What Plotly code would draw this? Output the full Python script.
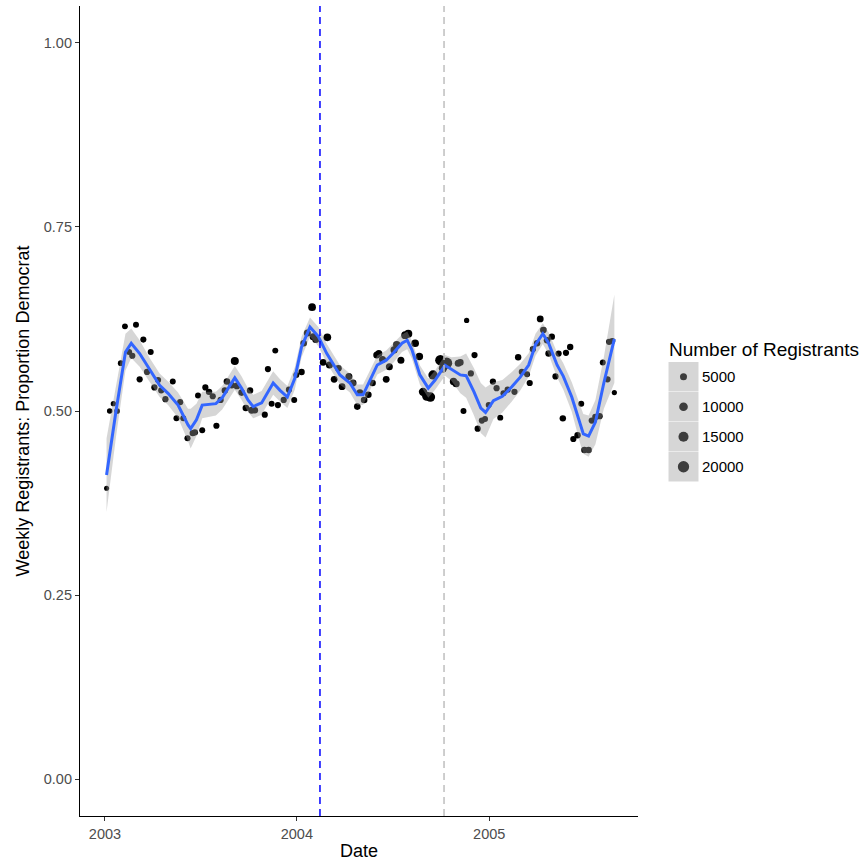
import math
import plotly.graph_objects as go

# ---------------- data ----------------
pt_dates = [
    "2003-01-04", "2003-01-10", "2003-01-17", "2003-01-24", "2003-01-31", "2003-02-08", "2003-02-16",
    "2003-02-22", "2003-03-01", "2003-03-08", "2003-03-15", "2003-03-22", "2003-03-29", "2003-04-05",
    "2003-04-12", "2003-04-18", "2003-04-26", "2003-05-10", "2003-05-17", "2003-05-24", "2003-05-30",
    "2003-06-07", "2003-06-17", "2003-06-21", "2003-06-27", "2003-07-05", "2003-07-11", "2003-07-18",
    "2003-07-25", "2003-08-01", "2003-08-09", "2003-08-17", "2003-08-21", "2003-08-30", "2003-09-05",
    "2003-09-09", "2003-09-18", "2003-09-26", "2003-10-04", "2003-10-07", "2003-10-13", "2003-11-01",
    "2003-11-07", "2003-11-14", "2003-11-21", "2003-11-26", "2003-12-07", "2003-12-17", "2003-12-27",
    "2003-12-31", "2004-01-10", "2004-01-14", "2004-01-21", "2004-01-30", "2004-02-01", "2004-02-06",
    "2004-02-20", "2004-02-28", "2004-03-03", "2004-03-12", "2004-03-20", "2004-03-27", "2004-04-09",
    "2004-04-17", "2004-04-25", "2004-04-30", "2004-05-08", "2004-05-16", "2004-05-24", "2004-06-01",
    "2004-06-05", "2004-06-12", "2004-06-19", "2004-06-25", "2004-07-04", "2004-07-09", "2004-07-17",
    "2004-07-25", "2004-07-31", "2004-08-13", "2004-08-21", "2004-08-28", "2004-09-04", "2004-09-11",
    "2004-09-16", "2004-09-30", "2004-10-05", "2004-10-12", "2004-10-25", "2004-10-30", "2004-11-03",
    "2004-11-07", "2004-11-13", "2004-11-19", "2004-11-27", "2004-12-04", "2004-12-10", "2004-12-18",
    "2004-12-24", "2004-12-31", "2005-01-08", "2005-01-15", "2005-01-22", "2005-01-28", "2005-02-05",
    "2005-02-18", "2005-02-25", "2005-03-04", "2005-03-14", "2005-03-19", "2005-03-25", "2005-04-02",
    "2005-04-08", "2005-04-14", "2005-04-21", "2005-04-24", "2005-04-30", "2005-05-07", "2005-05-13",
    "2005-05-21", "2005-05-27", "2005-06-04", "2005-06-10", "2005-06-18", "2005-06-25", "2005-07-01",
    "2005-07-09", "2005-07-15", "2005-07-22", "2005-07-30", "2005-08-05", "2005-08-14", "2005-08-17",
    "2005-08-23", "2005-08-27",
]
pt_props = [
    0.395, 0.500, 0.510, 0.500, 0.565, 0.615, 0.580,
    0.575, 0.617, 0.543, 0.597, 0.553, 0.580, 0.532,
    0.542, 0.528, 0.516, 0.540, 0.490, 0.512, 0.490,
    0.463, 0.470, 0.471, 0.521, 0.474, 0.532, 0.526,
    0.520, 0.480, 0.515, 0.528, 0.540, 0.535, 0.568,
    0.534, 0.525, 0.504, 0.528, 0.501, 0.501, 0.495,
    0.557, 0.510, 0.582, 0.508, 0.515, 0.529, 0.515,
    0.549, 0.553, 0.592, 0.606, 0.641, 0.601, 0.597,
    0.566, 0.600, 0.5625, 0.543, 0.558, 0.533, 0.547,
    0.538, 0.506, 0.525, 0.515, 0.522, 0.538, 0.576,
    0.578, 0.570, 0.543, 0.560, 0.583, 0.590, 0.569,
    0.603, 0.605, 0.592, 0.574, 0.526, 0.520, 0.519,
    0.549, 0.569, 0.558, 0.565, 0.540, 0.537, 0.565,
    0.566, 0.500, 0.623, 0.551, 0.576, 0.476, 0.487,
    0.489, 0.508, 0.540, 0.531, 0.491, 0.524, 0.529,
    0.526, 0.573, 0.553, 0.550, 0.538, 0.584, 0.592,
    0.625, 0.610, 0.596, 0.578, 0.601, 0.547, 0.578,
    0.490, 0.579, 0.587, 0.462, 0.467, 0.510, 0.447,
    0.447, 0.487, 0.492, 0.493, 0.566, 0.543, 0.594,
    0.595, 0.525,
]
pt_regs = [
    600, 1500, 1000, 1800, 2000, 2200, 2500,
    3000, 2500, 3000, 2800, 3000, 2500, 3000,
    2800, 2800, 3000, 2500, 2500, 2800, 2500,
    2800, 3500, 3500, 2500, 2500, 3000, 3500,
    3000, 3000, 3000, 3500, 4000, 4000, 8000,
    4500, 4000, 4000, 3500, 4500, 4000, 3000,
    3000, 2500, 2500, 3000, 3000, 3000, 2500,
    2500, 3500, 4000, 5000, 7000, 5000, 5000,
    4000, 7000, 5000, 4500, 4500, 4500, 5000,
    4500, 4000, 4000, 4000, 4000, 4000, 5000,
    5000, 5000, 4500, 5000, 5500, 6000, 5000,
    7500, 8000, 7000, 6500, 9000, 11000, 13000,
    12000, 16000, 9000, 19000, 6000, 5500, 5000,
    4000, 2500, 1000, 3000, 3000, 3000, 3000,
    2500, 2500, 3000, 3000, 2500, 2500, 3000,
    3000, 3500, 3000, 2500, 3000, 3000, 3500,
    4500, 4000, 4000, 4000, 3500, 3000, 3000,
    3500, 3000, 3500, 3000, 3500, 2500, 3500,
    3500, 3000, 3500, 3000, 2500, 3000, 3000,
    3000, 800,
]

sm_dates = [
    "2003-01-04", "2003-01-22", "2003-02-09", "2003-02-20", "2003-03-08", "2003-03-27", "2003-04-15",
    "2003-05-01", "2003-05-20", "2003-06-08", "2003-06-13", "2003-06-24", "2003-07-05", "2003-07-31",
    "2003-08-12", "2003-09-05", "2003-09-18", "2003-09-30", "2003-10-10", "2003-10-26", "2003-11-17",
    "2003-11-30", "2003-12-14", "2003-12-28", "2004-01-10", "2004-01-26", "2004-02-11", "2004-02-27",
    "2004-03-23", "2004-04-11", "2004-04-25", "2004-05-06", "2004-05-19", "2004-06-02", "2004-06-19",
    "2004-07-03", "2004-07-19", "2004-07-29", "2004-08-07", "2004-08-22", "2004-09-07", "2004-09-20",
    "2004-10-09", "2004-10-21", "2004-11-07", "2004-11-18", "2004-12-03", "2004-12-16", "2004-12-25",
    "2005-01-09", "2005-01-26", "2005-02-13", "2005-03-01", "2005-03-17", "2005-03-30", "2005-04-13",
    "2005-04-24", "2005-05-10", "2005-05-22", "2005-06-07", "2005-06-23", "2005-06-29", "2005-07-09",
    "2005-07-22", "2005-08-07", "2005-08-27",
]
sm_fit = [
    0.413, 0.500, 0.580, 0.592, 0.578, 0.556, 0.535,
    0.524, 0.508, 0.481, 0.476, 0.488, 0.508, 0.510,
    0.518, 0.545, 0.531, 0.515, 0.506, 0.511, 0.538,
    0.528, 0.519, 0.544, 0.587, 0.614, 0.601, 0.578,
    0.549, 0.538, 0.522, 0.522, 0.542, 0.5625, 0.569,
    0.579, 0.592, 0.596, 0.583, 0.549, 0.531, 0.542,
    0.562, 0.557, 0.549, 0.548, 0.526, 0.504, 0.498,
    0.514, 0.520, 0.533, 0.546, 0.5625, 0.590, 0.605,
    0.592, 0.5625, 0.547, 0.519, 0.481, 0.469, 0.466,
    0.485, 0.538, 0.598,
]
sm_se = [
    0.050, 0.035, 0.025, 0.020, 0.018, 0.016, 0.016,
    0.016, 0.017, 0.022, 0.027, 0.022, 0.018, 0.016,
    0.016, 0.016, 0.016, 0.016, 0.016, 0.016, 0.016,
    0.015, 0.015, 0.015, 0.014, 0.013, 0.013, 0.013,
    0.013, 0.013, 0.014, 0.014, 0.014, 0.013, 0.013,
    0.013, 0.012, 0.012, 0.012, 0.013, 0.013, 0.013,
    0.014, 0.016, 0.025, 0.030, 0.032, 0.034, 0.034,
    0.025, 0.022, 0.020, 0.018, 0.016, 0.015, 0.014,
    0.015, 0.017, 0.018, 0.020, 0.025, 0.027, 0.028,
    0.030, 0.035, 0.060,
]

year_ticks = ["2003-01-01", "2004-01-01", "2005-01-01"]
year_labels = ["2003", "2004", "2005"]
y_ticks = [0.0, 0.25, 0.5, 0.75, 1.0]
vline_blue = "2004-02-14"
vline_grey = "2004-10-07"
legend_breaks = [5000, 10000, 15000, 20000]


# size scale: area linear in registrants (like ggplot scale_size)
def reg_to_diam(n):
    return math.sqrt(22.7 + 0.00527 * n)


FONT = "Liberation Sans, Arial, Helvetica, sans-serif"

fig = go.Figure()

fig.add_trace(go.Scatter(
    x=pt_dates, y=pt_props, mode="markers",
    marker=dict(color="black", opacity=1, size=[reg_to_diam(n) for n in pt_regs], line=dict(width=0)),
    showlegend=False, hoverinfo="skip",
))

lower = [f - s for f, s in zip(sm_fit, sm_se)]
upper = [f + s for f, s in zip(sm_fit, sm_se)]
fig.add_trace(go.Scatter(x=sm_dates, y=lower, mode="lines", line=dict(width=0),
                         showlegend=False, hoverinfo="skip"))
fig.add_trace(go.Scatter(x=sm_dates, y=upper, mode="lines", line=dict(width=0),
                         fill="tonexty", fillcolor="rgba(153,153,153,0.4)",
                         showlegend=False, hoverinfo="skip"))
fig.add_trace(go.Scatter(x=sm_dates, y=sm_fit, mode="lines",
                         line=dict(color="#3366FF", width=3),
                         showlegend=False, hoverinfo="skip"))

# vertical reference lines
fig.add_shape(type="line", xref="x", yref="paper", x0=vline_blue, x1=vline_blue, y0=0, y1=1,
              line=dict(color="#0000FF", width=1.5, dash="7px,5px"))
fig.add_shape(type="line", xref="x", yref="paper", x0=vline_grey, x1=vline_grey, y0=0, y1=1,
              line=dict(color="#BEBEBE", width=1.5, dash="7px,5px"))

# ---------------- manual size legend ----------------
L, T, W, H = 80, 6, 558, 810  # plot area in pixels


def px(x):
    return (x - L) / W


def py(y):
    return (T + H - y) / H


fig.add_annotation(x=px(667), y=py(349), xref="paper", yref="paper", text="Number of Registrants",
                   showarrow=False, xanchor="left", yanchor="middle",
                   font=dict(family=FONT, size=19, color="black"))
key_top = 362
for i, b in enumerate(legend_breaks):
    y0 = key_top + i * 30
    fig.add_shape(type="rect", xref="paper", yref="paper", x0=px(668.5), x1=px(698.5),
                  y0=py(y0 + 29.5), y1=py(y0), fillcolor="#D6D6D6", line=dict(width=0), layer="above")
    d = reg_to_diam(b)
    cy = y0 + 14.75
    fig.add_shape(type="circle", xref="paper", yref="paper", xsizemode="pixel", ysizemode="pixel",
                  xanchor=px(683.5), yanchor=py(cy), x0=-d / 2, x1=d / 2, y0=-d / 2, y1=d / 2,
                  fillcolor="#3D3D3D", line=dict(width=0), layer="above")
    fig.add_annotation(x=px(700), y=py(cy), xref="paper", yref="paper", text=str(b),
                       showarrow=False, xanchor="left", yanchor="middle",
                       font=dict(family=FONT, size=15, color="black"))

fig.update_layout(
    width=863, height=865,
    margin=dict(l=L, r=863 - L - W, t=T, b=865 - T - H, autoexpand=False),
    paper_bgcolor="white", plot_bgcolor="white",
    font=dict(family=FONT, color="black"),
    showlegend=False,
    xaxis=dict(
        type="date", range=["2002-11-14 12:00", "2005-10-11"],
        tickvals=year_ticks, ticktext=year_labels,
        showline=True, linecolor="black", linewidth=1.2, mirror=False,
        ticks="outside", ticklen=4, tickwidth=1, tickcolor="#333333",
        showgrid=False, zeroline=False,
        tickfont=dict(family=FONT, size=14.5, color="#4D4D4D"),
        title=dict(text="Date", standoff=3, font=dict(family=FONT, size=18, color="black")),
    ),
    yaxis=dict(
        range=[-0.05, 1.05], tickvals=y_ticks, tickformat=".2f",
        showline=True, linecolor="black", linewidth=1.2,
        ticks="outside", ticklen=4, tickwidth=1, tickcolor="#333333",
        showgrid=False, zeroline=False,
        tickfont=dict(family=FONT, size=14.5, color="#4D4D4D"),
        title=dict(text="Weekly Registrants: Proportion Democrat", standoff=9,
                   font=dict(family=FONT, size=18, color="black")),
    ),
)

fig.write_html("out.html")
